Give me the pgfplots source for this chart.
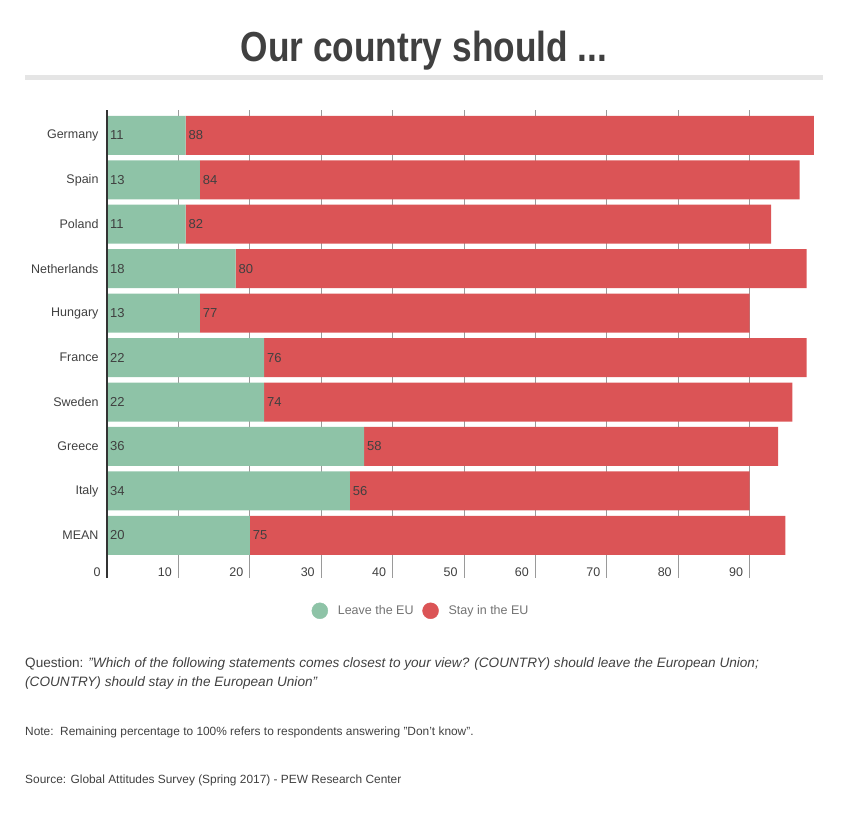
\documentclass[border=0pt]{standalone}
\usepackage{pgfplots}
\pgfplotsset{compat=1.18}
\usepackage{pgfplotstable}
\usepackage{fontspec}
\setmainfont{Liberation Sans}

\definecolor{leave}{HTML}{8EC3A7}
\definecolor{stay}{HTML}{DB5456}
\definecolor{txt}{HTML}{404040}
\definecolor{gridc}{HTML}{9A9A9A}

% idx, leave, stay (Germany ... MEAN)
\pgfplotstableread{
idx leave stay
0 11 88
1 13 84
2 11 82
3 18 80
4 13 77
5 22 76
6 22 74
7 36 58
8 34 56
9 20 75
}\survey

\pgfplotsset{
  common/.style={
    at={(107pt,-578pt)}, anchor=south west,
    scale only axis, width=714pt, height=468pt,
    xmin=0, xmax=100,
    ymin=-0.57, ymax=9.96, y dir=reverse,
    /pgf/number format/assume math mode=true,
  }
}

\begin{document}
\begin{tikzpicture}
\useasboundingbox (0,0) rectangle (850pt,-822pt);

\node[anchor=base, text=txt, inner sep=0] at (424pt,-61pt)
  {\scalebox{0.84}[1]{\fontsize{42}{50}\selectfont\bfseries Our country should ...}};
\fill[black!10] (25pt,-75pt) rectangle (823pt,-80pt);

\begin{axis}[common,
  xbar stacked, bar width=39pt,
  axis line style={draw=none},
  major tick length=0pt,
  xtick={0,10,...,90},
  xmajorgrids, grid style={gridc, line width=0.8pt},
  ytick={0,...,9},
  yticklabels={Germany,Spain,Poland,Netherlands,Hungary,France,Sweden,Greece,Italy,MEAN},
  yticklabel style={font=\fontsize{12.5}{14}\selectfont, text=txt, xshift=-5pt},
  xticklabel style={font=\fontsize{12.5}{14}\selectfont, text=txt, anchor=base east, xshift=-3pt, yshift=2pt},
]
\addplot[fill=leave, draw=none] table[x=leave, y=idx] {\survey};
\addplot[fill=stay, draw=none] table[x=stay, y=idx] {\survey};
\end{axis}

\begin{axis}[common, hide axis, clip=false,
  nodes near coords,
  every node near coord/.append style={anchor=west, xshift=-0.5pt, text=txt,
    font=\fontsize{13}{15}\selectfont},
  legend style={at={(0.44,-0.07)}, anchor=center, draw=none, fill=none, legend columns=2,
    font=\fontsize{12.5}{14}\selectfont, text=black!55,
    /tikz/every odd column/.append style={column sep=8pt},
    /tikz/every even column/.append style={column sep=7pt}},
]
\addplot[draw=none, mark=none, point meta=explicit, forget plot]
  table[x expr=0, y=idx, meta=leave] {\survey};
\addplot[draw=none, mark=none, point meta=explicit, forget plot]
  table[x=leave, y=idx, meta=stay] {\survey};
\draw[black!80, line width=2.6pt] (axis cs:0,-0.57) -- (axis cs:0,9.96);
\addlegendimage{only marks, mark=*, mark size=8pt, color=leave}
\addlegendentry{Leave the EU}
\addlegendimage{only marks, mark=*, mark size=8pt, color=stay}
\addlegendentry{Stay in the EU}
\end{axis}

\begin{scope}[text=txt, font=\fontsize{13.6}{16}\selectfont]
\node[anchor=base west, inner sep=0] at (25pt,-667pt)
  {Question: \textit{"Which of the following statements comes closest to your view? (COUNTRY) should leave the European Union;}};
\node[anchor=base west, inner sep=0] at (25pt,-686pt)
  {\textit{(COUNTRY) should stay in the European Union"}};
\end{scope}
\begin{scope}[text=txt, font=\fontsize{11.9}{14}\selectfont]
\node[anchor=base west, inner sep=0] at (25pt,-735pt)
  {Note:\ \ Remaining percentage to 100\% refers to respondents answering "Don't know".};
\node[anchor=base west, inner sep=0] at (25pt,-783pt)
  {Source: Global Attitudes Survey (Spring 2017) - PEW Research Center};
\end{scope}
\end{tikzpicture}
\end{document}
